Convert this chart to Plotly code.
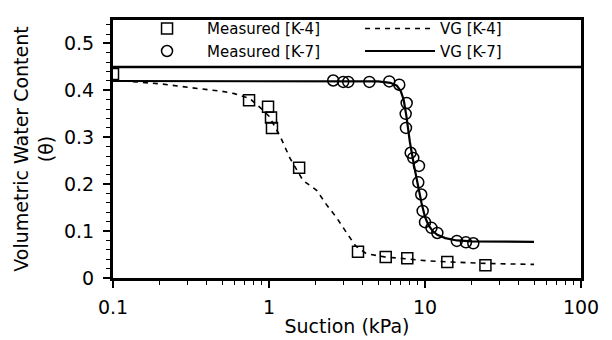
import plotly.graph_objects as go

# ---- data ----
k4_suction = [0.1, 0.745, 0.986, 1.03, 1.045, 1.56, 3.72, 5.6, 7.7, 13.9, 24.4]
k4_theta = [0.435, 0.379, 0.365, 0.342, 0.32, 0.235, 0.056, 0.045, 0.042, 0.034, 0.027]

k7_suction = [2.58, 2.99, 3.22, 4.40, 5.90, 6.84, 7.63, 7.52, 7.55, 8.09, 8.41, 9.15,
              9.06, 9.46, 9.66, 10.0, 11.0, 12.0, 16.0, 18.3, 20.4]
k7_theta = [0.421, 0.418, 0.418, 0.418, 0.419, 0.412, 0.373, 0.35, 0.32, 0.267, 0.256, 0.239,
            0.204, 0.178, 0.143, 0.119, 0.107, 0.096, 0.079, 0.076, 0.074]

vg4_suction = [0.1, 0.2, 0.35, 0.5, 0.6, 0.75, 0.9, 1.0, 1.18, 1.36, 1.65, 2.02, 2.34,
               2.72, 3.15, 3.6, 4.2, 5.5, 7.5, 10, 15, 25, 50]
vg4_theta = [0.422, 0.414, 0.404, 0.398, 0.393, 0.383, 0.36, 0.345, 0.302, 0.256, 0.208, 0.187,
             0.156, 0.128, 0.096, 0.068, 0.052, 0.045, 0.041, 0.037, 0.034, 0.031, 0.029]

vg7_suction = [0.1, 1, 3, 5, 6, 6.6, 7.0, 7.3, 7.6, 8.0, 8.5, 9.0, 9.5, 10.0, 10.5, 11.2,
               12, 13.5, 16, 20, 30, 50]
vg7_theta = [0.42, 0.42, 0.42, 0.419, 0.416, 0.41, 0.398, 0.38, 0.345, 0.29, 0.24, 0.195,
             0.16, 0.13, 0.113, 0.1, 0.092, 0.085, 0.08, 0.078, 0.077, 0.077]

x_tickvals = [0.1, 1, 10, 100]
x_ticktext = ["0.1", "1", "10", "100"]
x_minor = [m * d for d in (0.1, 1, 10) for m in range(2, 10)]
legend_top = 0.45

FONT = "DejaVu Sans"

fig = go.Figure()
fig.add_trace(go.Scatter(x=k4_suction, y=k4_theta, mode="markers", name="Measured [K-4]",
                         marker=dict(symbol="square-open", size=11, color="black",
                                     line=dict(width=1.5, color="black"))))
fig.add_trace(go.Scatter(x=vg4_suction, y=vg4_theta, mode="lines", name="VG [K-4]",
                         line=dict(color="black", width=1.6, dash="5px,5px")))
fig.add_trace(go.Scatter(x=k7_suction, y=k7_theta, mode="markers", name="Measured [K-7]",
                         marker=dict(symbol="circle-open", size=11, color="black",
                                     line=dict(width=1.5, color="black"))))
fig.add_trace(go.Scatter(x=vg7_suction, y=vg7_theta, mode="lines", name="VG [K-7]",
                         line=dict(color="black", width=2.2)))

fig.add_shape(type="line", xref="paper", x0=0, x1=1, yref="y", y0=legend_top, y1=legend_top,
              line=dict(color="black", width=2.5))

fig.update_layout(
    width=612, height=340,
    margin=dict(l=113, r=31, t=12, b=62),
    paper_bgcolor="white", plot_bgcolor="white",
    font=dict(family=FONT, size=19, color="black"),
    showlegend=True,
    legend=dict(orientation="h", x=0.03, y=1.03, xanchor="left", yanchor="top",
                bgcolor="rgba(0,0,0,0)", borderwidth=0,
                font=dict(family=FONT, size=15, color="black"),
                itemwidth=70, entrywidth=148, traceorder="normal"),
    xaxis=dict(type="log", range=[-1, 2], tickvals=x_tickvals, ticktext=x_ticktext,
               automargin=False,
               ticks="outside", ticklen=7, tickwidth=1.5, tickcolor="black",
               ticklabelstandoff=3,
               minor=dict(tickvals=x_minor, ticks="outside", ticklen=4, tickwidth=1,
                          tickcolor="black"),
               showline=True, linewidth=3, linecolor="black", mirror=True,
               showgrid=False, zeroline=False,
               title=dict(text="Suction (kPa)", font=dict(size=19), standoff=3)),
    yaxis=dict(range=[0, 0.55], dtick=0.1, tick0=0, automargin=False,
               ticks="outside", ticklen=7, tickwidth=1.5, tickcolor="black",
               ticklabelstandoff=5,
               minor=dict(dtick=0.02, ticks="outside", ticklen=4, tickwidth=1,
                          tickcolor="black"),
               showline=True, linewidth=3, linecolor="black", mirror=True,
               showgrid=False, zeroline=False,
               title=dict(text="Volumetric Water Content<br>(θ)", font=dict(size=19),
                          standoff=6)),
)

fig.write_html("out.html")
